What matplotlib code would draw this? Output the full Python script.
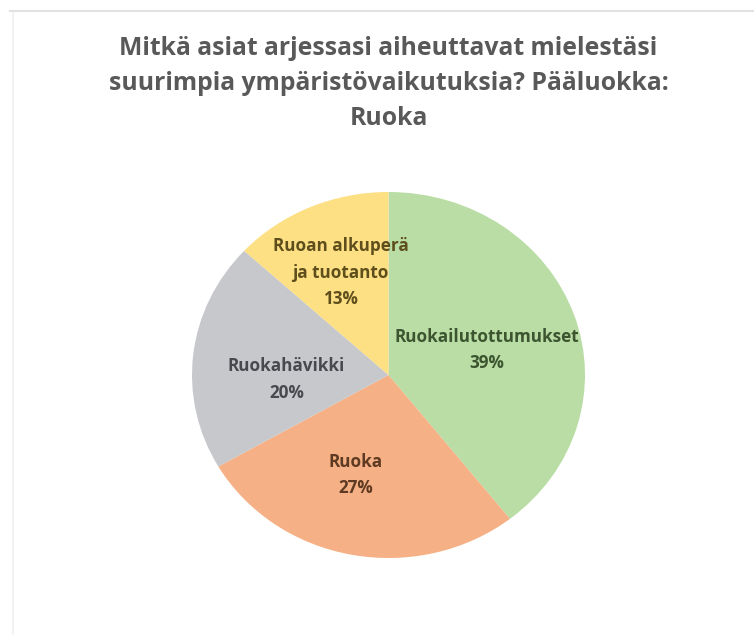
import numpy as np
import matplotlib
matplotlib.use("Agg")
import matplotlib.pyplot as plt
from matplotlib.lines import Line2D

# Survey answers, main category "Ruoka"
categories = ["Ruokailutottumukset", "Ruoka", "Ruokahävikki", "Ruoan alkuperä\nja tuotanto"]
shares = [39, 27, 20, 13]

slice_colors = ["#b9dda5", "#f5b185", "#c6c8cc", "#fddf84"]
text_colors = ["#3c5530", "#5e3a22", "#47494f", "#5e4e1c"]
label_radius = [0.52, 0.57, 0.52, 0.61]
label_turn = [-3.7, -6.0, 9.0, 0.0]

title = "Mitkä asiat arjessasi aiheuttavat mielestäsi\nsuurimpia ympäristövaikutuksia? Pääluokka:\nRuoka"

FONT = ["Open Sans", "DejaVu Sans"]
W, H = 754, 635

fig = plt.figure(figsize=(W / 100, H / 100), dpi=100)
fig.patch.set_facecolor("white")

# faint chart-area frame at the top and left
fig.add_artist(Line2D([10 / W, 1.0], [1 - 11 / H, 1 - 11 / H], color="#e2e2e2", lw=1.5))
fig.add_artist(Line2D([13 / W, 13 / W], [0.0, 1 - 13 / H], color="#f0f0f0", lw=1.2))

fig.text(388.5 / W, 1 - 36 / H, title, ha="center", va="top", fontsize=17.8,
         fontweight="bold", color="#595959", family=FONT, linespacing=1.52)

# pie area (slightly wider than tall)
cx, cy, rx, ry = 388.5, 375, 196.5, 183
ax = fig.add_axes([(cx - rx) / W, (H - cy - ry) / H, 2 * rx / W, 2 * ry / H])
wedges, _ = ax.pie(shares, colors=slice_colors, startangle=90, counterclock=False,
                   radius=1.0, wedgeprops=dict(linewidth=0))
ax.set_xlim(-1, 1)
ax.set_ylim(-1, 1)
ax.set_aspect("auto")
ax.axis("off")

for w, name, val, col, rr, turn in zip(wedges, categories, shares, text_colors,
                                        label_radius, label_turn):
    mid = np.deg2rad((w.theta1 + w.theta2) / 2 + turn)
    ax.text(rr * np.cos(mid), rr * np.sin(mid), f"{name}\n{val}%", ha="center", va="center",
            fontsize=12.3, fontweight="bold", color=col, family=FONT, linespacing=1.6)

fig.savefig("out.png", dpi=100, facecolor="white")
